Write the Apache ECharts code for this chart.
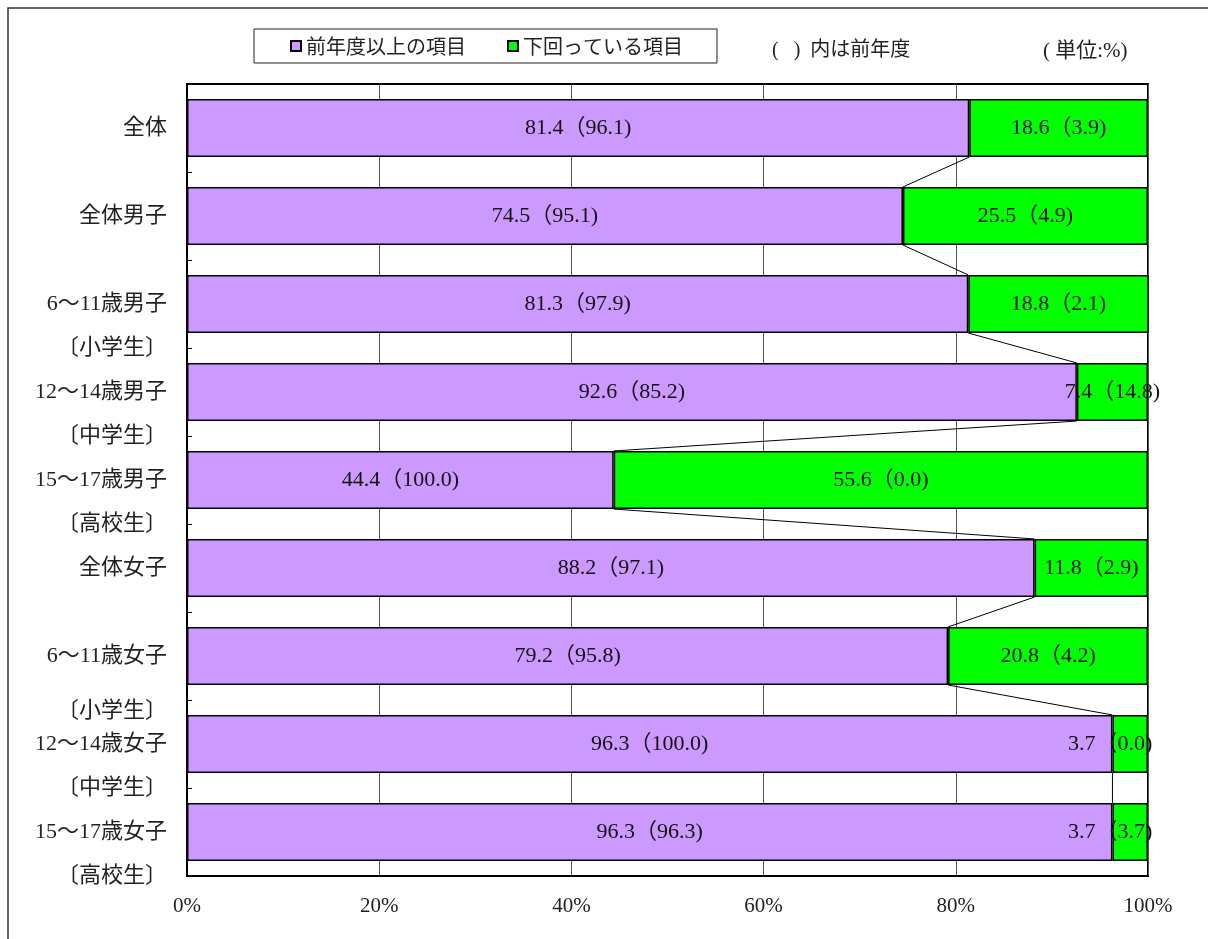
<!DOCTYPE html>
<html>
<head>
<meta charset="utf-8">
<script src="https://cdn.jsdelivr.net/npm/echarts@6/dist/echarts.min.js"></script>
<style>
  html, body { margin: 0; padding: 0; background: #fff; }
  #chart { width: 1208px; height: 939px; }
</style>
</head>
<body>
<div id="chart"></div>
<script>
// Groups shown from top to bottom
const categories = ['全体', '全体男子', '6〜11歳男子', '12〜14歳男子', '15〜17歳男子', '全体女子', '6〜11歳女子', '12〜14歳女子', '15〜17歳女子'];
const subLabels = ['', '', '〔小学生〕', '〔中学生〕', '〔高校生〕', '', '〔小学生〕', '〔中学生〕', '〔高校生〕'];

// Share of items at or above last year's level (%), and last year's figure
const aboveValues = [81.4, 74.5, 81.3, 92.6, 44.4, 88.2, 79.2, 96.3, 96.3];
const abovePrev = [96.1, 95.1, 97.9, 85.2, 100.0, 97.1, 95.8, 100.0, 96.3];

// Share of items below last year's level (%), and last year's figure
const belowValues = [18.6, 25.5, 18.8, 7.4, 55.6, 11.8, 20.8, 3.7, 3.7];
const belowPrev = [3.9, 4.9, 2.1, 14.8, 0.0, 2.9, 4.2, 0.0, 3.7];

const xTicks = { min: 0, max: 100, interval: 20 };

const seriesNames = ['前年度以上の項目', '下回っている項目'];

const SERIF = '"Liberation Serif", "Noto Sans CJK JP", serif';
const JP = '"Noto Sans CJK JP", sans-serif';

// Segments joining the boundary of one bar to the next
const connectorData = aboveValues.slice(0, -1).map((v, i) => [v, i, aboveValues[i + 1], i + 1]);

const chart = echarts.init(document.getElementById('chart'), null, { renderer: 'canvas' });

const barLabel = (prev) => ({
  show: true,
  position: 'inside',
  color: '#111',
  fontFamily: SERIF,
  fontSize: 22,
  formatter: (p) => p.value.toFixed(1) + '（' + prev[p.dataIndex].toFixed(1) + ')'
});

// Very narrow segments get their label nudged left so it stays inside the frame
const narrowItems = (values) => values.map((v) =>
  v < 5 ? { value: v, label: { offset: [-20, 0] } } : v);

// Category label: name on the band centre, school level on the line below it
const categoryLabel = (val, idx) => {
  if (!subLabels[idx]) return '{n|' + val + '}';
  // the girls' primary-school note sits a little lower
  const low = idx === 6;
  return (low ? '{e2| }' : '{e| }') + '\n{n|' + val + '}\n' + (low ? '{s2|' : '{s|') + subLabels[idx] + '}';
};

const labelText = { fontFamily: SERIF, fontSize: 22, color: '#222' };

chart.setOption({
  backgroundColor: '#fff',
  animation: false,
  grid: {
    left: 187, top: 84, width: 961, height: 792,
    show: true, borderColor: '#000', borderWidth: 2, containLabel: false
  },
  legend: {
    left: 254, top: 29,
    padding: [7, 34, 7, 36],
    borderColor: '#222', borderWidth: 1,
    itemWidth: 10, itemHeight: 10, itemGap: 41,
    icon: 'rect',
    textStyle: { fontFamily: JP, fontSize: 20, color: '#222' },
    data: seriesNames
  },
  xAxis: {
    type: 'value',
    min: xTicks.min, max: xTicks.max, interval: xTicks.interval,
    axisLine: { show: true, lineStyle: { color: '#000', width: 2 } },
    axisTick: { show: false },
    splitLine: { show: true, lineStyle: { color: '#555', width: 1 } },
    axisLabel: {
      formatter: '{value}%', margin: 20,
      fontFamily: SERIF, fontSize: 21, color: '#222'
    }
  },
  yAxis: {
    type: 'category',
    inverse: true,
    data: categories,
    axisLine: { show: true, lineStyle: { color: '#000', width: 2 } },
    axisTick: { show: true, inside: true, length: 5, lineStyle: { color: '#000', width: 1 } },
    splitLine: { show: false },
    axisLabel: {
      margin: 20,
      align: 'right',
      interval: 0,
      hideOverlap: false,
      showMinLabel: true,
      showMaxLabel: true,
      formatter: categoryLabel,
      rich: {
        e: Object.assign({ lineHeight: 44 }, labelText),
        n: Object.assign({ lineHeight: 44 }, labelText),
        s: Object.assign({ lineHeight: 44 }, labelText),
        e2: Object.assign({ lineHeight: 66 }, labelText),
        s2: Object.assign({ lineHeight: 66 }, labelText)
      }
    }
  },
  series: [
    {
      name: seriesNames[0],
      type: 'bar',
      stack: 'total',
      barCategoryGap: '34%',
      data: aboveValues,
      itemStyle: { color: '#CC99FF', borderColor: '#000', borderWidth: 1.5 },
      label: barLabel(abovePrev),
      z: 2
    },
    {
      name: seriesNames[1],
      type: 'bar',
      stack: 'total',
      barCategoryGap: '34%',
      data: narrowItems(belowValues),
      itemStyle: { color: '#00FF00', borderColor: '#000', borderWidth: 1.5 },
      label: barLabel(belowPrev),
      z: 2
    },
    {
      type: 'custom',
      silent: true,
      clip: false,
      encode: { x: [0, 2], y: [1, 3] },
      data: connectorData,
      renderItem: (params, api) => {
        const p1 = api.coord([api.value(0), api.value(1)]);
        const p2 = api.coord([api.value(2), api.value(3)]);
        const half = api.size([0, 1])[1] * 0.33;
        return {
          type: 'line',
          shape: { x1: p1[0], y1: p1[1] + half, x2: p2[0], y2: p2[1] - half },
          style: { stroke: '#000', lineWidth: 1 }
        };
      },
      z: 3
    }
  ],
  graphic: [
    {
      type: 'polyline',
      shape: { points: [[8, 960], [8, 8], [1230, 8]] },
      style: { stroke: '#333', lineWidth: 1.5, fill: null },
      silent: true
    },
    {
      type: 'text', left: 772, top: 41,
      style: { text: '(   )  内は前年度', fontFamily: SERIF, fontSize: 20, fill: '#222' }
    },
    {
      type: 'text', left: 1043, top: 41,
      style: { text: '( 単位:%)', fontFamily: SERIF, fontSize: 21, fill: '#222' }
    }
  ]
});
</script>
</body>
</html>
